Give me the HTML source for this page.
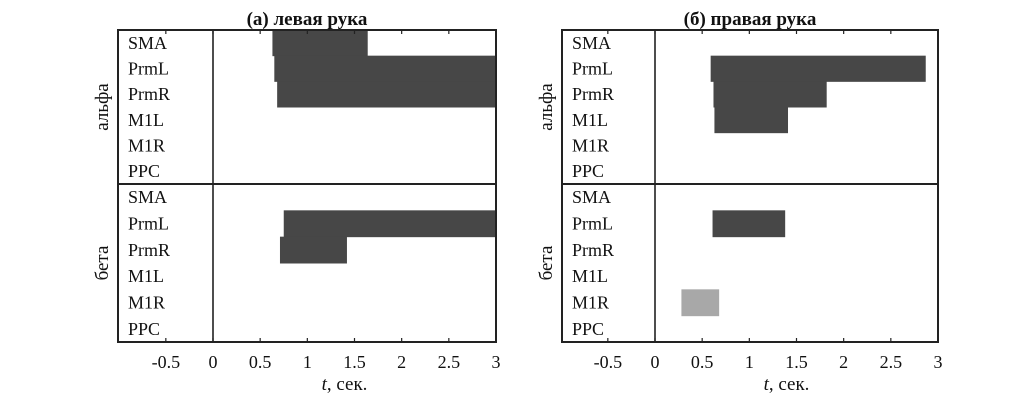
<!DOCTYPE html>
<html><head><meta charset="utf-8"><style>
html,body{margin:0;padding:0;background:#fff;}
svg{display:block;font-family:"Liberation Serif",serif;}
</style></head><body>
<svg id="chart" width="1033" height="407"></svg>
<script>
const regions = ["SMA","PrmL","PrmR","M1L","M1R","PPC"];
const bands = ["альфа","бета"];
const xTicks = [-0.5,0,0.5,1,1.5,2,2.5,3];
const xTickLabels = ["-0.5","0","0.5","1","1.5","2","2.5","3"];
const titles = ["(а) левая рука","(б) правая рука"];
// bars: [regionIndex, start, end]
const leftAlphaBars = [[0,0.63,1.64],[1,0.65,3],[2,0.68,3]];
const leftBetaBars = [[1,0.75,3],[2,0.71,1.42]];
const rightAlphaBars = [[1,0.59,2.87],[2,0.62,1.82],[3,0.63,1.41]];
const rightBetaBars = [[1,0.61,1.38]];
const rightBetaLightBars = [[4,0.28,0.68]];

const svg = document.getElementById('chart');
const NS = 'http://www.w3.org/2000/svg';
function mk(tag, attrs, parent){const e=document.createElementNS(NS,tag);for(const k in attrs)e.setAttribute(k,attrs[k]);(parent||svg).appendChild(e);return e;}

const panels = [{left:118, zero:213, right:496},{left:562, zero:655, right:938}];
const yTop=30, yMid=184, yBottom=342;
function rowY(band,i){const y0 = band===0?yTop:yMid; const h=(band===0?(yMid-yTop):(yBottom-yMid))/6; return [y0+i*h, h];}

panels.forEach((p,pi)=>{
  const sx = v => p.zero + v*(p.right-p.zero)/3;
  const g = mk('g',{});
  
  
  const t = mk('text',{x:(p.left+p.right)/2,y:25,'text-anchor':'middle','font-size':19,'font-weight':'bold',fill:'#111'},g);
  t.textContent = titles[pi];
  
  
  const sets = pi===0 ? [[leftAlphaBars,0,'#474747'],[leftBetaBars,1,'#474747']] :
    [[rightAlphaBars,0,'#474747'],[rightBetaBars,1,'#474747'],[rightBetaLightBars,1,'#a8a8a8']];
  sets.forEach(([arr,band,col])=>{
    arr.forEach(b=>{
      const [y,h]=rowY(band,b[0]);
      const r = mk('rect',{x:sx(b[1]),y:y,width:sx(b[2])-sx(b[1]),height:h+0.5,fill:col},g);
      
      
    });
  });
  xTicks.forEach((v,i)=>{
    const x=sx(v);
    mk('line',{x1:x,y1:yTop,x2:x,y2:yTop+4,stroke:'#222','stroke-width':1.2},g);
    mk('line',{x1:x,y1:yBottom,x2:x,y2:yBottom-4,stroke:'#222','stroke-width':1.2},g);
    const tl = mk('text',{x:x,y:368,'text-anchor':'middle','font-size':18,fill:'#111'},g);
    tl.textContent = xTickLabels[i];
    
    
  });
  mk('rect',{x:p.left,y:yTop,width:p.right-p.left,height:yBottom-yTop,fill:'none',stroke:'#222','stroke-width':2},g);
  mk('line',{x1:p.left,y1:yMid,x2:p.right,y2:yMid,stroke:'#222','stroke-width':2},g);
  mk('line',{x1:p.zero,y1:yTop,x2:p.zero,y2:yBottom,stroke:'#222','stroke-width':1.6},g);
  bands.forEach((bn,bi)=>{
    regions.forEach((r,ri)=>{
      const [y,h]=rowY(bi,ri);
      const tx = mk('text',{x:p.left+10,y:y+h/2+6,'font-size':18,fill:'#111'},g);
      tx.textContent=r;
      
      
    });
    const cy = bi===0?(yTop+yMid)/2:(yMid+yBottom)/2;
    const bl = mk('text',{x:p.left-10,y:cy,'text-anchor':'middle','font-size':19,fill:'#111',transform:`rotate(-90 ${p.left-10} ${cy})`},g);
    bl.textContent=bn;
    
    
  });
  const xl = mk('text',{x:(p.zero+p.right)/2-10,y:390,'text-anchor':'middle','font-size':19,fill:'#111'},g);
  const ti = mk('tspan',{'font-style':'italic'},xl);
  ti.textContent='t';
  const tr = mk('tspan',{},xl);
  tr.textContent=', сек.';
  
  
});
</script>
</body></html>
